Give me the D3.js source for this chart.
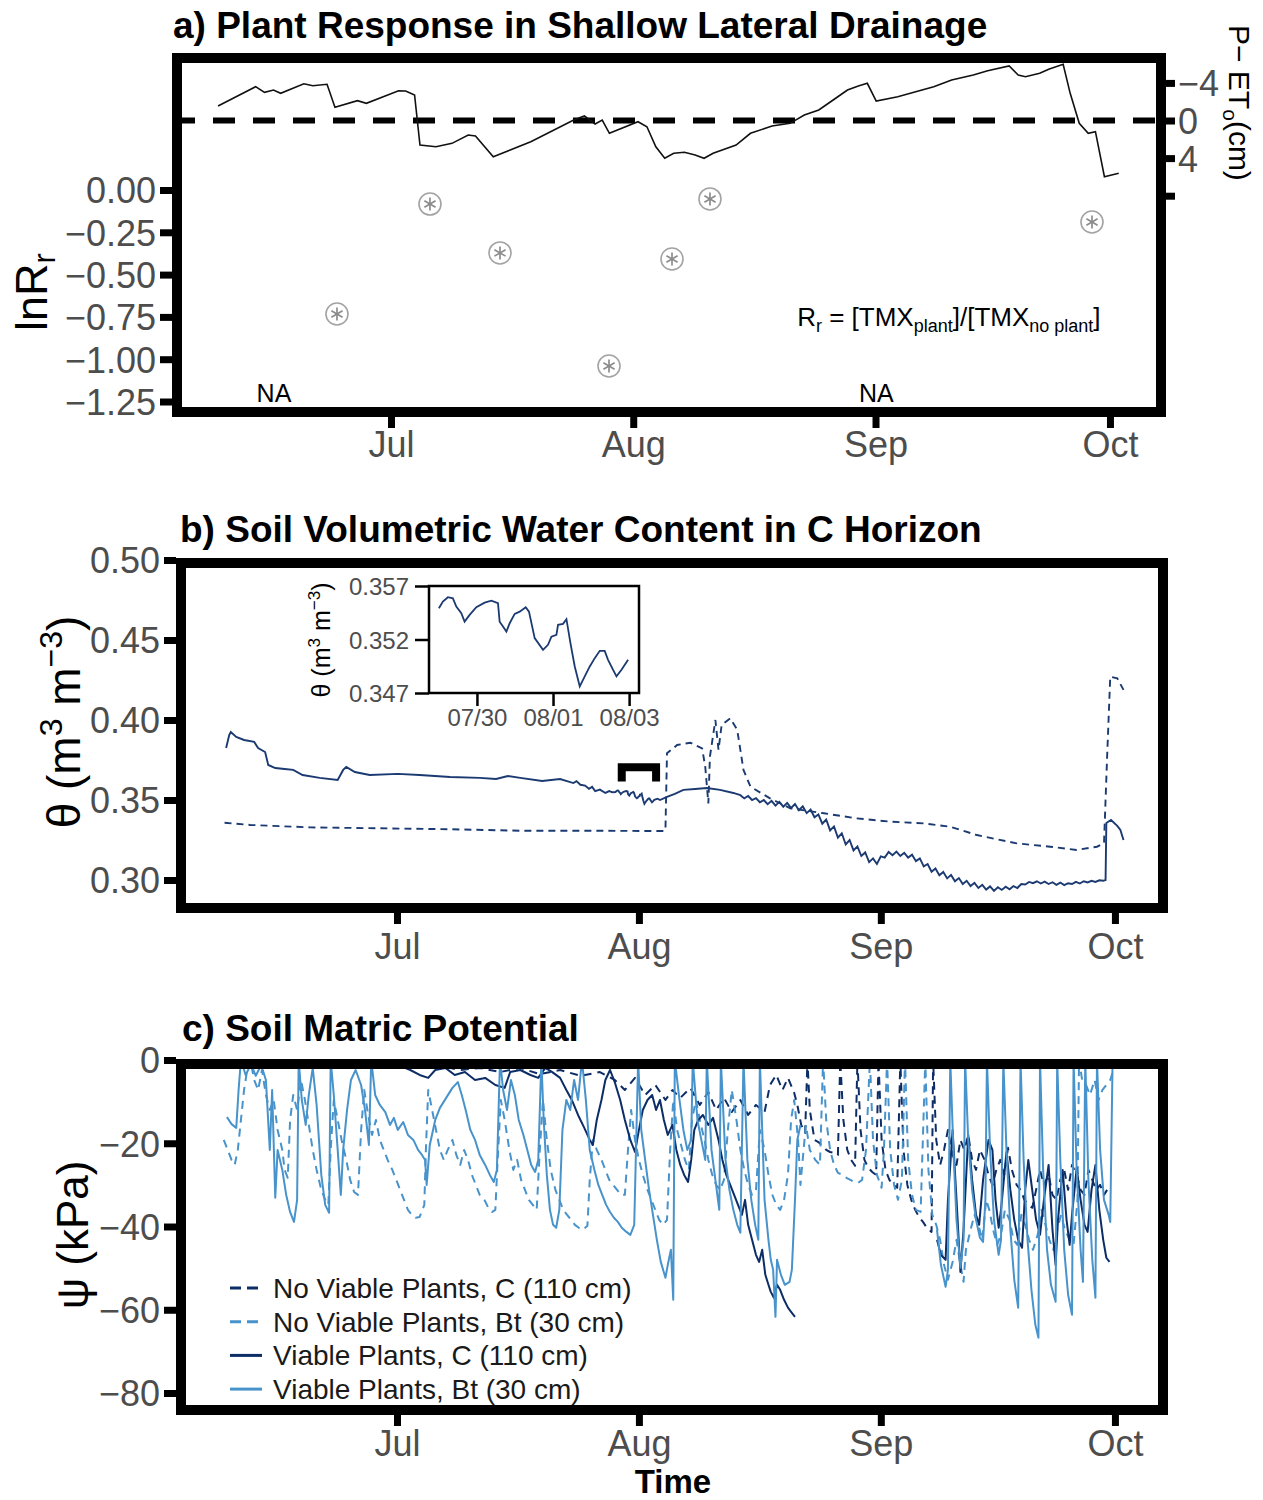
<!DOCTYPE html>
<html>
<head>
<meta charset="utf-8">
<script src="https://cdn.jsdelivr.net/npm/d3@7"></script>
<style>
  body { margin: 0; background: #fff; }
  svg { display: block; }
  text { font-family: "Liberation Sans", Arial, sans-serif; }
</style>
</head>
<body>
<svg id="chart" width="1263" height="1500"></svg>
<script>
// ---------------- data ----------------
// time is stored as days since 1 July (fractional days)
const monthTickLabels = ["Jul", "Aug", "Sep", "Oct"];

// (a) P - ETo running balance (cm)
const petDays = [-22.13,-17.32,-16.18,-15.03,-14.12,-11.15,-10.00,-8.18,-7.17,-4.29,-3.15,0.97,1.88,3.02,3.71,5.76,7.81,9.88,10.81,13.09,17.89,23.38,24.75,26.12,27.03,27.95,31.61,32.75,33.89,35.03,36.18,37.55,38.92,40.06,41.22,44.16,46.00,48.76,51.06,52.89,54.74,56.58,58.41,59.80,60.95,62.09,64.85,67.14,69.45,71.74,74.51,76.35,79.10,80.26,81.18,83.01,84.16,86.01,86.91,88.07,89.22,90.14,91.29,93.12];
const petValues = [-1.54,-3.60,-3.00,-3.24,-2.89,-3.91,-3.70,-3.85,-1.40,-2.11,-1.83,-3.17,-3.14,-2.71,2.61,2.79,2.43,1.54,1.65,3.85,2.26,-0.05,-0.48,0.37,-0.05,1.36,0.13,0.66,2.79,4.02,3.49,3.38,3.67,4.02,3.49,2.61,1.36,0.59,0.30,-0.59,-1.12,-2.18,-3.24,-3.67,-3.96,-2.07,-2.53,-3.06,-3.60,-4.31,-4.84,-5.30,-5.80,-4.84,-4.66,-5.02,-5.45,-5.98,-2.89,0.30,1.36,1.19,5.98,5.62];

// (a) ln of the response ratio
const rrDays = [-6.91, 4.99, 13.95, 27.90, 35.96, 40.82, 89.70];
const lnRr = [-0.733, -0.083, -0.372, -1.040, -0.408, -0.053, -0.189];
const naDays = [-14.97, 62.10];
const lnRrTicks = [0, -0.25, -0.5, -0.75, -1.0, -1.25];
const petTicks = [-4, 0, 4, 8];
const petTickLabels = ["\u22124", "0", "4", ""];

// (b) volumetric water content, C horizon (m3 m-3)
const thetaViable = [
  [-21.9,.3825],[-21.5,.3906],[-21.3,.3925],[-20.6,.3894],[-19.6,.3875],[-18.3,.3863],[-17.8,.3825],[-16.9,.3800],
  [-16.5,.3719],[-15.6,.3700],[-14.4,.3694],[-13.3,.3688],[-12.1,.3656],[-9.9,.3638],[-7.6,.3625],[-6.9,.3688],
  [-6.5,.3706],[-5.4,.3675],[-3.5,.3656],[0.1,.3663],[2.9,.3656],[6.8,.3644],[10.6,.3638],[12.7,.3631],[14.2,.3650],
  [15.8,.3638],[18.6,.3619],[20.9,.3631],[22.6,.3606],[23.0,.3618],[23.5,.3595],[24.1,.3590],[24.6,.3570],[25.0,.3582],
  [25.4,.3556],[26.0,.3565],[26.7,.3544],[27.2,.3556],[27.6,.3548],
  [28.000,.35492],[28.105,.35554],[28.237,.35595],[28.368,.35585],[28.458,.35507],[28.589,.35446],[28.676,.35367],
  [28.808,.35430],[28.984,.35502],[29.203,.35544],[29.379,.35563],[29.553,.35539],[29.597,.35367],[29.684,.35321],
  [29.774,.35274],[29.861,.35352],[29.992,.35439],[30.124,.35460],[30.282,.35502],[30.368,.35460],[30.518,.35213],
  [30.737,.35104],[30.868,.35150],[30.958,.35227],[31.089,.35243],[31.132,.35337],[31.263,.35346],[31.353,.35390],
  [31.458,.35166],[31.571,.34948],[31.703,.34762],[31.834,.34855],[31.966,.34948],[32.097,.35026],[32.229,.35094],
  [32.358,.35094],[32.447,.35010],[32.579,.34917],[32.668,.34855],[32.800,.34917],[32.974,.35010],
  [33.4,.3508],[33.7,.3500],[34.6,.3519],[35.6,.3538],[36.7,.3563],[38.2,.3569],[39.7,.3575],[41.4,.3563],[43.1,.3544],
  [44.0,.3530],[44.5,.3510],[45.0,.3525],[45.5,.3500],[46.0,.3512],[46.5,.3486],[47.0,.3500],[47.5,.3474],[48.0,.3495],
  [48.5,.3465],[49.0,.3488],[49.5,.3458],[50.0,.3482],[50.5,.3450],[51.0,.3475],[51.5,.3436],[52.0,.3460],[52.5,.3418],
  [53.0,.3440],[53.5,.3392],[54.0,.3410],[54.5,.3352],[55.0,.3378],[55.5,.3310],[56.0,.3335],[56.5,.3265],[57.0,.3292],
  [57.5,.3222],[58.0,.3250],[58.5,.3185],[59.0,.3210],[59.5,.3150],[60.0,.3172],[60.5,.3112],[61.0,.3135],[61.5,.3100],
  [62.0,.3148],[62.5,.3140],[63.0,.3175],[63.5,.3155],[64.0,.3178],[64.5,.3150],[65.0,.3170],[65.5,.3140],[66.0,.3158],
  [66.5,.3118],[67.0,.3135],[67.5,.3085],[68.0,.3100],[68.5,.3052],[69.0,.3072],[69.5,.3030],[70.0,.3050],[70.5,.3010],
  [71.0,.3032],[71.5,.2992],[72.0,.3012],[72.5,.2975],[73.0,.2995],[73.5,.2962],[74.0,.2982],[74.5,.2950],[75.0,.2970],
  [75.5,.2940],[76.0,.2960],[76.5,.2932],[77.0,.2955],[77.5,.2938],[78.0,.2958],[78.5,.2942],[79.0,.2962],[79.5,.2950],
  [80.0,.2975],[80.5,.2972],[81.0,.2988],[81.5,.2980],[82.0,.2992],[82.5,.2978],[83.0,.2990],[83.5,.2975],[84.0,.2986],
  [84.5,.2970],[85.0,.2984],[85.5,.2968],[86.0,.2980],[86.5,.2975],[87.0,.2988],[87.5,.2978],[88.0,.2992],[88.5,.2985],
  [89.0,.2995],[89.5,.2988],[90.0,.2998],[90.5,.2995],[90.8,.3000],[90.9,.3356],[91.5,.3375],[92.3,.3338],[92.7,.3313],[93.1,.3250]
];
const thetaNoViable = [
  [-22.1,.3358],[-18.8,.3344],[-11.1,.3329],[-2.1,.3323],[6.9,.3317],[15.9,.3308],[24.9,.3308],[34.3,.3306],[34.4,.3313],
  [34.6,.3792],[35.9,.3844],[37.6,.3858],[39.1,.3823],[39.5,.3708],[39.9,.3479],[40.1,.3771],[40.8,.4000],[41.2,.3813],
  [41.6,.3969],[42.7,.4011],[43.6,.3938],[44.4,.3688],[45.3,.3583],[47.8,.3510],[50.4,.3448],[54.7,.3417],[58.9,.3385],
  [63.2,.3365],[67.5,.3354],[70.9,.3333],[74.3,.3281],[79.4,.3229],[83.7,.3208],[87.1,.3188],[89.7,.3208],[90.6,.3229],
  [90.8,.3500],[91.0,.3771],[91.4,.4271],[92.3,.4261],[93.1,.4188]
];
const thetaTicks = [0.30, 0.35, 0.40, 0.45, 0.50];
const insetTicks = [0.347, 0.352, 0.357];
const insetDateTicks = [29, 31, 33];
const insetWindow = [27.74, 33.26];
const bracketDays = [28.8, 33.2];

// (c) soil matric potential (kPa); null marks a logger gap
const psiNoViableC = [
  [-22.2,-0.7],[-12.4,-0.7],[-2.2,-0.7],[0.4,-1.0],[2.9,-1.9],[5.5,-1.4],[8.1,-2.4],[10.6,-1.9],[13.2,-2.9],[15.8,-1.9],
  [18.3,-3.4],[20.9,-2.4],[23.5,-3.8],[26.0,-2.9],[27.9,-4.8],[29.2,-7.2],[30.5,-4.3],[31.8,-8.4],[33.1,-6.0],[34.4,-9.6],
  [35.3,-7.2],[36.3,-9.1],[37.6,-6.7],[38.8,-10.8],[39.9,-7.7],[40.9,-12.0],[41.9,-9.1],[42.9,-12.5],[44.0,-9.6],[45.0,-13.2],
  [46.0,-10.8],[47.1,-12.5],[47.8,-6.0],[48.6,-3.6],[49.4,-7.2],[50.1,-4.3],[50.9,-7.9],[51.3,-10.8],[51.8,-15.6],[52.3,-17.5],
  [52.6,0],[52.9,-12.0],[53.5,-19.2],[54.0,-19.7],[54.5,-20.6],[55.0,-21.6],[55.5,-22.1],[56.0,-22.3],[56.5,-22.8],[56.8,0],
  [57.2,-14.4],[57.7,-21.6],[58.2,-24.0],[58.7,-25.4],[59.0,0],[59.4,-16.8],[59.9,-24.0],[60.4,-25.9],[60.9,-26.9],[61.4,-27.6],
  [61.7,0],[62.1,-19.2],[62.6,-26.4],[63.1,-28.8],[63.6,-30.0],[64.1,-30.7],[64.5,0],[64.9,-21.6],[65.4,-30.0],[65.9,-33.6],
  [66.4,-36.0],[66.9,-37.7],[67.4,-38.9],[67.9,-40.3],[68.5,-41.3],[68.7,0],[69.1,-19.2],[69.6,-25.2],[70.1,-21.6],[70.6,-16.8],
  [71.2,-22.8],[71.7,-25.2],[72.2,-19.2],[72.7,-21.6],[73.2,-18.0],[73.7,-24.0],[74.2,-26.4],[74.7,-21.6],[75.3,-24.0],[75.8,-27.6],
  [76.3,-30.0],[76.8,-26.4],[77.3,-24.0],[77.8,-27.6],[78.3,-21.1],[78.8,-26.4],[79.4,-30.0],[79.9,-31.2],[80.4,-33.6],[80.9,-34.8],
  [81.4,-35.5],[81.9,-31.2],[82.4,-26.4],[82.9,-30.0],[83.5,-27.6],[84.0,-32.4],[84.5,-33.6],[85.0,-28.8],[85.5,-26.4],[86.0,-31.2],
  [86.5,-25.2],[87.1,-27.6],[87.6,-31.2],[88.1,-32.4],[88.6,-26.4],[89.1,-28.8],[89.6,-31.2],[90.1,-30.0],[90.6,-32.4],[91.0,-31.2]
];
const psiNoViableBt = [
  [-22.2,-19.2],[-21.7,-21.6],[-21.2,-24.0],[-20.8,-25.2],[-20.4,-21.6],[-20.0,-14.4],[-19.6,-7.2],[-19.2,-2.4],[-18.8,0],
  [-18.3,-4.8],[-17.8,-7.2],[-17.3,-2.4],[-16.8,-8.4],[-16.3,-12.0],[-15.8,-9.6],[-15.3,-16.8],[-14.7,-21.6],[-14.4,-26.4],
  [-14.0,-28.3],[-13.7,-14.4],[-13.3,-8.4],[-12.8,-12.0],[-12.3,-4.8],[-11.8,-9.6],[-11.3,-15.6],[-10.8,-21.6],[-10.3,-26.4],
  [-9.7,-31.2],[-9.2,-33.6],[-8.8,-34.8],[-8.5,-21.6],[-8.1,-9.6],[-7.6,-14.4],[-7.1,-19.2],[-6.5,-24.0],[-6.0,-28.8],
  [-5.5,-31.7],[-5.0,-32.4],[-4.6,-16.8],[-4.2,-7.2],[-3.7,-13.2],[-3.2,-18.0],[-2.7,-14.4],[-2.2,-19.2],[-1.7,-21.6],
  [-1.2,-24.0],[-0.6,-26.4],[-0.1,-28.8],[0.4,-31.2],[0.9,-33.6],[1.4,-36.0],[1.9,-37.2],[2.4,-37.9],[2.9,-37.7],[3.5,-34.8],
  [3.7,-21.6],[4.0,-7.2],[4.5,-12.0],[5.0,-16.8],[5.5,-21.6],[6.0,-24.0],[6.5,-21.6],[7.1,-19.2],[7.6,-22.8],[8.1,-25.2],
  [8.6,-21.6],[9.1,-24.0],[9.6,-27.6],[10.1,-30.0],[10.6,-32.4],[11.2,-33.6],[11.7,-35.5],[12.2,-36.5],[12.6,-36.0],[12.9,-24.0],
  [13.3,-9.6],[13.8,-14.4],[14.4,-21.6],[14.9,-26.4],[15.4,-24.0],[15.9,-28.8],[16.4,-31.2],[16.9,-33.6],[17.4,-34.8],[17.9,-36.0],
  [18.3,-21.6],[18.7,-9.6],[19.2,-19.2],[19.7,-26.4],[20.3,-31.2],[20.8,-33.6],[21.3,-36.0],[21.8,-37.2],[22.3,-38.4],[22.8,-39.6],
  [23.3,-40.3],[23.8,-40.8],[24.4,-39.8],[24.7,-28.8],[25.1,-19.2],[25.6,-21.6],[26.2,-24.0],[26.7,-26.4],[27.2,-28.8],[27.7,-30.0],
  [28.2,-31.2],[28.7,-32.4],[29.2,-32.4],[29.6,-21.6],[30.0,-12.0],[30.5,-19.2],[31.0,-24.0],[31.5,-27.6],[32.1,-31.2],[32.6,-33.6],
  [33.1,-36.0],[33.6,-38.4],[34.1,-39.6],[34.6,-38.4],[35.0,-21.6],[35.4,-9.6],[35.9,-16.8],[36.4,-20.4],[36.9,-24.0],[37.4,-26.4],
  [37.8,-14.4],[38.3,-9.6],[38.8,-14.4],[39.4,-19.2],[39.9,-24.0],[40.4,-27.6],[40.9,-30.0],[41.4,-31.2],[41.9,-28.8],[42.4,-16.8],
  [42.9,-7.2],[43.5,-14.4],[44.0,-21.6],[44.5,-26.4],[45.0,-30.0],[45.5,-32.4],[46.0,-31.2],[46.5,-16.8],[47.1,-21.6],[47.6,-27.6],
  [48.1,-32.4],[48.6,-34.8],[49.1,-36.0],[49.6,-33.6],[50.1,-27.6],[50.5,-14.4],[50.9,-9.6],[51.4,-19.2],[51.7,-30.0],[52.1,-21.6],
  [52.4,-15.6],[52.9,-21.6],[53.6,-24.0],[54.2,-25.2],[54.6,0],[55.0,-14.4],[55.5,-21.6],[56.0,-25.2],[56.5,-27.1],[57.1,-27.6],
  [57.6,-28.3],[58.1,-28.8],[58.6,-29.3],[59.1,-29.5],[59.6,-28.8],[60.1,-21.6],[60.6,0],[61.0,-19.2],[61.5,-27.6],[62.1,-30.7],
  [62.4,-21.6],[62.8,0],[63.2,-21.6],[63.7,-30.0],[64.2,-33.6],[64.7,-28.8],[65.1,0],[65.5,-24.0],[66.0,-32.4],[66.5,-36.0],
  [67.1,-36.5],[67.7,0],[68.1,-26.4],[68.6,-37.2],[69.1,-39.6],[69.6,-43.2],[70.1,-49.2],[70.6,-52.8],[71.2,-48.5],[71.7,-43.2],
  [72.2,-49.2],[72.6,-53.3],[72.9,-45.6],[73.5,-40.8],[74.0,-37.2],[74.5,-39.6],[75.0,-43.2],[75.5,-33.6],[75.9,-36.0],[76.4,-40.8],
  [76.9,-44.4],[77.4,-42.0],[77.9,-36.0],[78.5,-38.4],[79.0,-43.2],[79.5,-44.4],[80.0,-37.2],[80.5,-39.6],[81.0,-43.2],[81.5,-45.6],
  [82.1,-42.0],[82.6,-36.0],[83.1,-39.6],[83.6,-43.2],[84.1,-45.6],[84.6,-40.8],[85.1,-37.2],[85.6,-40.8],[86.2,-43.2],[86.7,-44.4],
  [87.2,-33.6],[87.4,0],[87.8,-4.8],[88.3,-6.0],[88.8,-8.4],[89.4,-4.8],[89.9,-9.6],[90.4,-7.2],[90.9,-6.0],[91.4,-4.8],[91.8,-2.4]
];
const psiViableC = [
  [-21.4,-0.7],[-12.4,-0.7],[-7.3,-1.0],[-2.2,-0.7],[0.4,-1.4],[1.7,-2.4],[2.9,-3.6],[4.0,-4.3],[4.9,-2.4],[6.2,-1.9],
  [7.4,-3.6],[8.7,-2.9],[10.0,-4.8],[11.3,-4.3],[12.6,-6.0],[13.8,-6.7],[14.5,-2.9],[15.8,-2.4],[17.1,-3.6],[18.1,-4.3],
  [19.0,-1.9],[19.9,-2.9],[20.9,-4.3],[21.7,-7.2],[22.4,-9.6],[23.2,-13.2],[24.0,-16.3],[24.7,-19.2],[25.1,-20.4],[25.6,-14.4],
  [26.2,-9.6],[26.7,-4.8],[27.3,-2.4],[27.9,-5.3],[28.6,-9.6],[29.2,-14.4],[29.9,-19.2],[30.5,-22.1],[31.0,-16.8],[31.5,-12.0],
  [32.1,-9.6],[32.7,-8.4],[33.2,-12.0],[33.7,-9.6],[34.2,-14.4],[34.7,-18.0],[35.3,-15.6],[35.8,-21.6],[36.3,-25.2],[36.8,-27.6],
  [37.3,-29.3],[37.7,-24.0],[38.1,-16.8],[38.6,-14.4],[39.2,-13.2],[39.9,-15.6],[40.5,-13.9],[41.2,-19.2],[41.7,-24.0],[42.2,-27.6],
  [42.7,-30.0],[43.2,-32.4],[43.7,-34.8],[44.2,-37.2],[44.6,-33.6],[45.0,-39.6],[45.5,-43.2],[46.0,-46.8],[46.4,-48.5],[46.8,-45.6],
  [47.2,-51.6],[47.6,-54.0],[47.9,-55.7],[48.3,-57.1],[48.7,-54.0],[49.1,-55.2],[49.6,-57.6],[50.1,-59.5],[50.5,-60.5],[51.0,-61.7],
  [60.0,null],
  [69.2,-43.2],[69.7,-46.8],[70.3,-48.0],[70.6,-33.6],[71.2,-16.8],[71.7,-33.6],[72.2,-50.9],[72.6,-40.8],[73.2,-18.0],[73.7,-28.8],
  [74.2,-37.2],[74.6,-39.6],[75.1,-28.8],[75.8,-19.2],[76.3,-21.6],[76.7,-33.6],[77.1,-40.3],[77.4,-36.0],[78.1,-22.1],[78.6,-31.2],
  [79.1,-38.4],[79.6,-43.2],[80.1,-45.1],[80.5,-31.2],[80.9,-24.0],[81.4,-31.2],[81.9,-38.4],[82.4,-42.0],[82.9,-33.6],[83.5,-25.2],
  [84.0,-40.8],[84.4,-49.2],[84.7,-38.4],[85.3,-26.4],[85.8,-38.4],[86.2,-44.4],[86.5,-37.2],[87.1,-25.9],[87.6,-33.6],[88.1,-39.6],
  [88.5,-41.3],[89.0,-31.2],[89.5,-25.2],[90.0,-36.0],[90.5,-43.2],[90.9,-47.5],[91.3,-48.5]
];
const psiViableBt = [
  [-21.8,-13.7],[-21.2,-15.4],[-20.6,-16.3],[-20.3,-7.2],[-20.0,0],[-19.4,-3.6],[-18.7,-1.0],[-18.1,-3.8],[-17.4,-1.2],[-16.8,-4.8],
  [-16.3,-21.6],[-16.0,-7.2],[-15.6,-33.1],[-15.3,-21.6],[-14.7,-26.4],[-14.2,-32.4],[-13.7,-36.5],[-13.2,-38.9],[-12.8,-33.6],[-12.6,0],
  [-12.2,-9.6],[-11.7,-15.6],[-11.3,-8.4],[-10.8,-1.9],[-10.3,-10.8],[-9.7,-27.6],[-9.2,-34.8],[-8.7,-36.7],[-8.5,0],[-8.1,-8.4],
  [-7.6,-21.6],[-7.2,-32.4],[-6.9,-21.6],[-6.4,-12.0],[-5.9,-4.8],[-5.3,-2.4],[-4.6,-6.0],[-4.1,-12.0],[-3.6,-20.4],[-3.3,0],
  [-2.8,-8.4],[-2.2,-10.8],[-1.5,-12.5],[-0.9,-15.6],[-0.4,-13.9],[0.1,-16.8],[0.8,-14.9],[1.4,-18.0],[2.1,-19.2],[2.7,-21.6],
  [3.2,-22.8],[3.6,-24.0],[3.8,-30.0],[4.2,-20.4],[4.9,-14.4],[5.5,-11.5],[6.3,-9.1],[7.1,-6.7],[7.8,-5.3],[8.3,-8.4],
  [8.8,-12.0],[9.4,-16.8],[10.0,-19.2],[10.6,-22.8],[11.3,-25.2],[11.9,-27.6],[12.4,-29.3],[12.8,-26.4],[13.2,0],[13.6,-7.2],
  [14.1,-12.0],[14.6,-4.8],[15.1,-8.4],[15.6,-14.4],[16.2,-18.0],[16.7,-21.6],[17.2,-25.2],[17.7,-26.9],[18.1,-24.0],[18.5,0],
  [18.8,-14.4],[19.2,-27.6],[19.6,-36.0],[20.0,-39.6],[20.4,-40.3],[20.8,-36.0],[21.2,-16.8],[21.7,-9.6],[22.2,-12.0],[22.7,-4.8],
  [23.2,-9.6],[23.7,0],[24.2,-9.6],[24.7,-21.6],[25.3,-26.4],[25.8,-30.0],[26.3,-32.4],[26.8,-34.8],[27.3,-36.5],[27.8,-37.9],
  [28.3,-38.9],[28.8,-40.3],[29.4,-41.3],[29.9,-42.0],[30.4,-39.6],[30.9,0],[31.3,-16.8],[31.8,-24.0],[32.3,-31.2],[32.8,-37.2],
  [33.3,-43.2],[33.8,-48.5],[34.4,-52.3],[34.7,-49.2],[35.1,-45.6],[35.4,-57.6],[35.6,0],[36.2,-9.6],[36.7,-16.8],[37.2,-21.6],
  [37.7,-19.2],[37.9,0],[38.5,-14.4],[39.0,-19.2],[39.5,-24.0],[39.7,0],[40.3,-21.6],[40.8,-28.8],[41.3,-36.0],[41.5,0],
  [42.1,-24.0],[42.6,-31.2],[43.1,-36.0],[43.6,-39.6],[44.0,-41.5],[44.4,0],[44.9,-24.0],[45.4,-33.6],[45.9,-39.6],[46.3,-43.2],
  [46.5,0],[47.1,-33.6],[47.6,-43.2],[47.9,-48.0],[48.2,-50.4],[48.5,-61.7],[48.7,-48.0],[49.2,-51.6],[49.7,-54.0],[50.3,-53.3],
  [50.6,-50.4],[51.0,-33.6],[51.3,-19.2],[51.7,-15.6],
  [60.0,null],
  [69.2,-40.8],[69.7,-49.2],[70.3,-54.5],[70.6,-50.4],[70.9,0],[71.3,-21.6],[71.7,-38.4],[72.2,-49.9],[72.6,-43.2],[72.8,0],
  [73.2,-19.2],[73.7,-31.2],[74.2,-38.4],[74.7,-42.7],[75.1,-43.7],[75.4,-33.6],[75.6,0],[76.0,-21.6],[76.5,-38.4],[77.1,-46.8],
  [77.4,-43.2],[77.7,0],[78.1,-21.6],[78.6,-40.8],[79.1,-52.8],[79.6,-59.5],[79.9,0],[80.3,-24.0],[80.8,-43.2],[81.3,-55.2],
  [81.8,-63.6],[82.2,-66.7],[82.4,0],[82.8,-26.4],[83.3,-45.6],[83.8,-54.0],[84.4,-58.1],[84.6,0],[85.0,-24.0],[85.5,-45.6],
  [86.0,-56.4],[86.5,-61.2],[86.7,0],[87.1,-26.4],[87.6,-45.6],[87.9,-53.3],[88.2,0],[88.6,-28.8],[89.1,-48.0],[89.5,-57.1],
  [89.7,0],[90.1,-21.6],[90.6,-33.6],[91.2,-37.2],[91.4,-38.9],[91.7,0]
];
const psiTicks = [0, -20, -40, -60, -80];
const legendLabels = ["No Viable Plants, C (110 cm)", "No Viable Plants, Bt (30 cm)", "Viable Plants, C (110 cm)", "Viable Plants, Bt (30 cm)"];

// ---------------- helpers ----------------
const baseDate = new Date(2019, 6, 1);
const toDate = d => new Date(baseDate.getTime() + d * 864e5);
const svg = d3.select("#chart");
const tickGrey = "#4d4d4d";
const navy = "#1b3a72";
const darkBlue = "#0c2d66";
const lightBlue = "#4893cb";
const monthFmt = d => monthTickLabels[d.getMonth() - 6];

function frame(b) {
  svg.append("rect").attr("x", b.l).attr("y", b.t).attr("width", b.r - b.l).attr("height", b.b - b.t)
    .attr("fill", "none").attr("stroke", "#000").attr("stroke-width", 10);
}
function clip(id, b) {
  svg.append("clipPath").attr("id", id).append("rect")
    .attr("x", b.l).attr("y", b.t).attr("width", b.r - b.l).attr("height", b.b - b.t);
}
function styleAxis(g, size) {
  g.select(".domain").remove();
  g.selectAll(".tick line").attr("stroke", "#000").attr("stroke-width", 7);
  g.selectAll(".tick text").attr("fill", tickGrey).attr("font-size", size)
    .attr("font-family", "Liberation Sans, Arial, sans-serif");
}
function bottomAxis(x, b, pad) {
  const g = svg.append("g").attr("transform", `translate(0,${b.b + 5})`)
    .call(d3.axisBottom(x).ticks(d3.timeMonth.every(1)).tickFormat(monthFmt).tickSize(11).tickPadding(pad));
  styleAxis(g, 36);
}
function leftAxis(y, b, vals, fmt) {
  const g = svg.append("g").attr("transform", `translate(${b.l - 5},0)`)
    .call(d3.axisLeft(y).tickValues(vals).tickFormat(fmt).tickSize(12).tickPadding(4));
  styleAxis(g, 36);
  g.selectAll(".tick text").attr("dy", "0.36em");
}
function title(txt, x, y) {
  svg.append("text").attr("x", x).attr("y", y).attr("font-size", 37).attr("font-weight", "bold")
    .attr("fill", "#000").text(txt);
}

// ---------------- (a) ----------------
const bA = { l: 177, r: 1161, t: 58, b: 412 };
const xA = d3.scaleTime().domain([toDate(-27.38), toDate(98.53)]).range([bA.l, bA.r]);
const yA = d3.scaleLinear().domain([-1.312, 0.780]).range([bA.b, bA.t]);
const yA2 = d3.scaleLinear().domain([-6.65, 31.01]).range([bA.t, bA.b]);
clip("clipA", bA);
title("a) Plant Response in Shallow Lateral Drainage", 173, 38);

const gA = svg.append("g").attr("clip-path", "url(#clipA)");
gA.append("line").attr("x1", bA.l).attr("x2", bA.r).attr("y1", yA2(0)).attr("y2", yA2(0))
  .attr("stroke", "#000").attr("stroke-width", 6).attr("stroke-dasharray", "22,18").attr("stroke-dashoffset", 4);
gA.append("path").datum(petDays.map((d, i) => [d, petValues[i]]))
  .attr("fill", "none").attr("stroke", "#111").attr("stroke-width", 1.6)
  .attr("d", d3.line().x(d => xA(toDate(d[0]))).y(d => yA2(d[1])));

const pts = gA.selectAll("g.pt").data(rrDays.map((d, i) => [d, lnRr[i]])).join("g")
  .attr("transform", d => `translate(${xA(toDate(d[0]))},${yA(d[1])})`);
pts.append("circle").attr("r", 11).attr("fill", "none").attr("stroke", "#a3a3a3").attr("stroke-width", 1.6);
[[0, -6.5, 0, 6.5], [-5.6, -3.2, 5.6, 3.2], [-5.6, 3.2, 5.6, -3.2]].forEach(s => {
  pts.append("line").attr("x1", s[0]).attr("y1", s[1]).attr("x2", s[2]).attr("y2", s[3])
    .attr("stroke", "#8c8c8c").attr("stroke-width", 1.7);
});
gA.selectAll("text.na").data(naDays).join("text").attr("class", "na")
  .attr("x", d => xA(toDate(d))).attr("y", yA(-1.2)).attr("dy", "0.35em")
  .attr("text-anchor", "middle").attr("font-size", 25).attr("fill", "#000").text("NA");

const fx = svg.append("text").attr("x", xA(toDate(90.8))).attr("y", yA(-0.75)).attr("dy", "0.35em")
  .attr("text-anchor", "end").attr("font-size", 26).attr("fill", "#000");
fx.append("tspan").text("R");
fx.append("tspan").attr("font-size", 18).attr("dy", 6).text("r");
fx.append("tspan").attr("dy", -6).text(" = [TMX");
fx.append("tspan").attr("font-size", 18).attr("dy", 6).text("plant");
fx.append("tspan").attr("dy", -6).text("]/[TMX");
fx.append("tspan").attr("font-size", 18).attr("dy", 6).text("no plant");
fx.append("tspan").attr("dy", -6).text("]");

frame(bA);
bottomAxis(xA, bA, 3);
leftAxis(yA, bA, lnRrTicks, d3.format(".2f"));
const gA2 = svg.append("g").attr("transform", `translate(${bA.r + 5},0)`)
  .call(d3.axisRight(yA2).tickValues(petTicks).tickFormat((d, i) => petTickLabels[i]).tickSize(9).tickPadding(3));
styleAxis(gA2, 36);
gA2.selectAll(".tick text").attr("dy", "0.36em");

const ylA = svg.append("text").attr("transform", "translate(47,292) rotate(-90)")
  .attr("text-anchor", "middle").attr("font-size", 45).attr("fill", "#000");
ylA.append("tspan").text("lnR");
ylA.append("tspan").attr("font-size", 31).attr("dy", 8).text("r");

const ylA2 = svg.append("text").attr("transform", "translate(1229,25) rotate(90)")
  .attr("font-size", 30).attr("fill", "#000");
ylA2.append("tspan").text("P\u2212 ET");
ylA2.append("tspan").attr("font-size", 21).attr("dy", 6).text("o");
ylA2.append("tspan").attr("dy", -6).text("(cm)");

// ---------------- (b) ----------------
const bB = { l: 181, r: 1163, t: 563, b: 908 };
const xB = d3.scaleTime().domain([toDate(-27.68), toDate(98.16)]).range([bB.l, bB.r]);
const yB = d3.scaleLinear().domain([0.2825, 0.49813]).range([bB.b, bB.t]);
clip("clipB", bB);
title("b) Soil Volumetric Water Content in C Horizon", 180, 542);
const gB = svg.append("g").attr("clip-path", "url(#clipB)");
const lineB = d3.line().x(d => xB(toDate(d[0]))).y(d => yB(d[1]));
gB.append("path").datum(thetaNoViable).attr("fill", "none").attr("stroke", navy)
  .attr("stroke-width", 1.9).attr("stroke-dasharray", "7,5").attr("d", lineB);
gB.append("path").datum(thetaViable).attr("fill", "none").attr("stroke", navy)
  .attr("stroke-width", 1.9).attr("d", lineB);
// bracket marking the inset window
const bx0 = xB(toDate(bracketDays[0])), bx1 = xB(toDate(bracketDays[1]));
gB.append("path").attr("d", `M${bx0},${yB(0.3615)}V${yB(0.3705)}H${bx1}V${yB(0.3615)}`)
  .attr("fill", "none").attr("stroke", "#000").attr("stroke-width", 8);
frame(bB);
bottomAxis(xB, bB, 9);
leftAxis(yB, bB, thetaTicks, d3.format(".2f"));
const ylB = svg.append("text").attr("transform", "translate(80,722) rotate(-90)")
  .attr("text-anchor", "middle").attr("font-size", 46).attr("fill", "#000");
ylB.append("tspan").text("\u03b8 (m");
ylB.append("tspan").attr("font-size", 32).attr("dy", -18).text("3");
ylB.append("tspan").attr("dy", 18).text(" m");
ylB.append("tspan").attr("font-size", 32).attr("dy", -18).text("\u22123");
ylB.append("tspan").attr("dy", 18).text(")");

// inset
const bI = { l: 429, r: 639, t: 586, b: 693 };
const xI = d3.scaleTime().domain([toDate(insetWindow[0]), toDate(insetWindow[1])]).range([bI.l, bI.r]);
const yI = d3.scaleLinear().domain([0.347, 0.357]).range([bI.b, bI.t]);
clip("clipI", bI);
svg.append("rect").attr("x", bI.l).attr("y", bI.t).attr("width", bI.r - bI.l).attr("height", bI.b - bI.t)
  .attr("fill", "#fff");
svg.append("g").attr("clip-path", "url(#clipI)").append("path")
  .datum(thetaViable.filter(d => d[0] >= insetWindow[0] && d[0] <= insetWindow[1]))
  .attr("fill", "none").attr("stroke", navy).attr("stroke-width", 1.8)
  .attr("d", d3.line().x(d => xI(toDate(d[0]))).y(d => yI(d[1])));
svg.append("rect").attr("x", bI.l).attr("y", bI.t).attr("width", bI.r - bI.l).attr("height", bI.b - bI.t)
  .attr("fill", "none").attr("stroke", "#000").attr("stroke-width", 2.5);
const gIx = svg.append("g").attr("transform", `translate(0,${bI.b})`)
  .call(d3.axisBottom(xI).tickValues(insetDateTicks.map(toDate)).tickFormat(d3.timeFormat("%m/%d")).tickSize(13).tickPadding(3));
gIx.select(".domain").remove();
gIx.selectAll(".tick line").attr("stroke", "#000").attr("stroke-width", 2.5);
gIx.selectAll(".tick text").attr("fill", tickGrey).attr("font-size", 24);
const gIy = svg.append("g").attr("transform", `translate(${bI.l},0)`)
  .call(d3.axisLeft(yI).tickValues(insetTicks).tickFormat(d3.format(".3f")).tickSize(14).tickPadding(6));
gIy.select(".domain").remove();
gIy.selectAll(".tick line").attr("stroke", "#000").attr("stroke-width", 2.5);
gIy.selectAll(".tick text").attr("fill", tickGrey).attr("font-size", 24).attr("dy", "0.36em");
const ylI = svg.append("text").attr("transform", "translate(330,640) rotate(-90)")
  .attr("text-anchor", "middle").attr("font-size", 25).attr("fill", "#000");
ylI.append("tspan").text("\u03b8 (m");
ylI.append("tspan").attr("font-size", 17).attr("dy", -10).text("3");
ylI.append("tspan").attr("dy", 10).text(" m");
ylI.append("tspan").attr("font-size", 17).attr("dy", -10).text("\u22123");
ylI.append("tspan").attr("dy", 10).text(")");

// ---------------- (c) ----------------
const bC = { l: 181, r: 1163, t: 1064, b: 1410 };
const xC = d3.scaleTime().domain([toDate(-27.68), toDate(98.16)]).range([bC.l, bC.r]);
const yC = d3.scaleLinear().domain([-84.08, -0.96]).range([bC.b, bC.t]);
clip("clipC", bC);
title("c) Soil Matric Potential", 182, 1041);
const gC = svg.append("g").attr("clip-path", "url(#clipC)");
const lineC = d3.line().defined(d => d[1] !== null).x(d => xC(toDate(d[0]))).y(d => yC(d[1]));
const seriesC = [
  { data: psiNoViableC, color: darkBlue, dash: "8,6" },
  { data: psiNoViableBt, color: lightBlue, dash: "8,6" },
  { data: psiViableC, color: darkBlue, dash: null },
  { data: psiViableBt, color: lightBlue, dash: null }
];
seriesC.forEach(s => {
  gC.append("path").datum(s.data).attr("fill", "none").attr("stroke", s.color)
    .attr("stroke-width", 2).attr("stroke-linejoin", "round")
    .attr("stroke-dasharray", s.dash).attr("d", lineC);
});
// legend
seriesC.forEach((s, i) => {
  const ly = 1288 + i * 33.7;
  svg.append("line").attr("x1", 230).attr("x2", 262).attr("y1", ly).attr("y2", ly)
    .attr("stroke", s.color).attr("stroke-width", 3).attr("stroke-dasharray", s.dash ? "11,6" : null);
  svg.append("text").attr("x", 273).attr("y", ly).attr("dy", "0.35em").attr("font-size", 28)
    .attr("fill", "#1a1a1a").text(legendLabels[i]);
});
frame(bC);
bottomAxis(xC, bC, 4);
leftAxis(yC, bC, psiTicks, d3.format("d"));
svg.append("text").attr("transform", "translate(88,1235) rotate(-90)")
  .attr("text-anchor", "middle").attr("font-size", 44).attr("fill", "#000").text("\u03c8 (kPa)");

svg.append("text").attr("x", 673).attr("y", 1493).attr("text-anchor", "middle")
  .attr("font-size", 33).attr("font-weight", "bold").attr("fill", "#000").text("Time");
</script>
</body>
</html>
